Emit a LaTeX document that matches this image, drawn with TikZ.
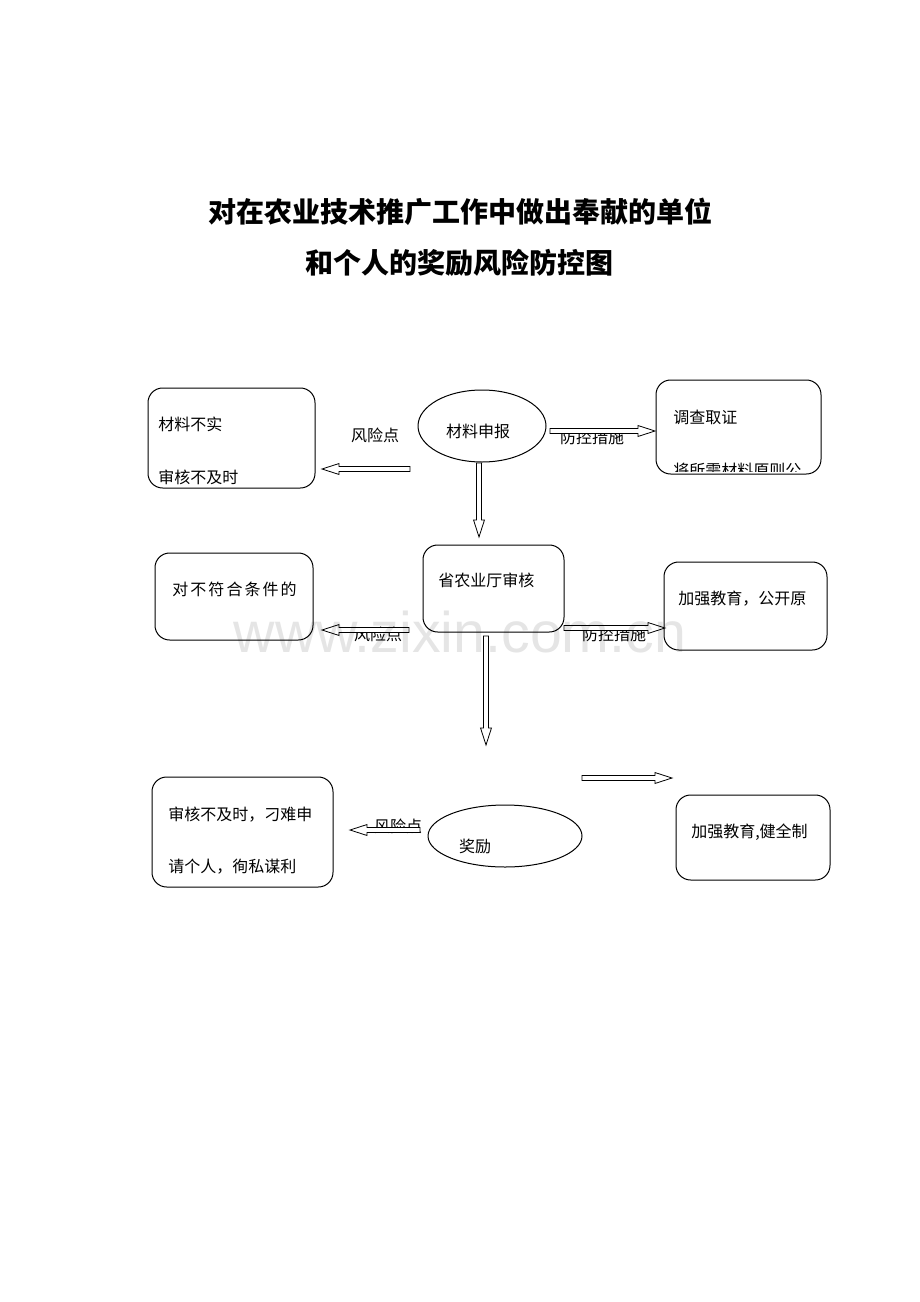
\documentclass[tikz,border=0pt]{standalone}
\usepackage{fontspec}
\setmainfont{Noto Sans CJK SC}
\newfontfamily\markfont{Liberation Sans}
\usetikzlibrary{shapes.geometric,calc,fit}

% hollow block arrow between two named coordinates
\newcommand\hollowarrow[2]{%
  \coordinate (hb) at ($(#2)!12.75pt!(#1)$);
  \draw[arrowline] ($(#1)!1.9pt!90:(#2)$) -- ($(hb)!1.9pt!90:(#2)$)
    -- ($(hb)!4.1pt!90:(#2)$) -- (#2) -- ($(hb)!4.1pt!-90:(#2)$)
    -- ($(hb)!1.9pt!-90:(#2)$) -- ($(#1)!1.9pt!-90:(#2)$) -- cycle;}

\tikzset{
  riskbox/.style={draw,rounded corners=11pt,inner sep=0pt,line width=0.75pt},
  stepoval/.style={draw,ellipse,line width=0.75pt,inner sep=0pt},
  arrowline/.style={draw,fill=white,line width=0.6pt},
  txt/.style={anchor=west,inner sep=0pt,font=\fontsize{12}{14}\selectfont},
  lbl/.style={inner sep=0pt,font=\fontsize{12}{14}\selectfont},
  headline/.style={inner sep=0pt,font=\fontsize{21}{24}\selectfont\bfseries}
}

\begin{document}
\begin{tikzpicture}[x=0.75pt,y=-0.75pt]
\useasboundingbox[fill=white] (0,0) rectangle (920,1302);

% title
\node[headline] (title1) at (460,212) {对在农业技术推广工作中做出奉献的单位};
\node[headline] (title2) at (459,263) {和个人的奖励风险防控图};

% boxes
\node[riskbox,fit={(148,388) (315,488)}] (riskA) {};
\node[riskbox,fit={(656,380) (821,474)}] (stepA) {};
\node[riskbox,fit={(423,545) (564,632)}] (audit) {};
\node[riskbox,fit={(155,553) (313,640)}] (riskB) {};
\node[riskbox,fit={(664,562) (827,650)}] (stepB) {};
\node[riskbox,fit={(152,777) (333,887)}] (riskC) {};
\node[riskbox,fit={(676,795) (830,880)}] (stepC) {};

\node[stepoval,minimum width=96pt,minimum height=54pt] (apply) at (482,426) {};
\node[stepoval,minimum width=115.5pt,minimum height=46.5pt] (award) at (505,836) {};

% texts
\node[lbl] (applyT) at (478,431) {材料申报};
\node[lbl] (awardT) at (475,846) {奖励};
\node[txt] (riskA1) at (158,424) {材料不实};
\begin{scope}
  \clip (149,389) rectangle (314,486);
  \node[txt] (riskA2) at (158,477) {审核不及时};
\end{scope}
\node[txt] (stepA1) at (673,417) {调查取证};
\begin{scope}
  \clip (657,381) rectangle (820,471);
  \node[txt] (stepA2) at (673,470) {将所需材料原则公};
\end{scope}
\node[txt] (auditT) at (438,580) {省农业厅审核};
\node[txt] (riskB1) at (172,589) {\addfontfeature{LetterSpace=13}对不符合条件的};
\node[txt] (stepB1) at (678,599) {加强教育，公开原};
\node[txt] (riskC1) at (168,815) {审核不及时，刁难申};
\node[txt] (riskC2) at (168,867) {请个人，徇私谋利};
\node[txt] (stepC1) at (691,832) {加强教育,健全制};

\node[lbl] (riskL1) at (375,435) {风险点};
\node[lbl] (stepL1) at (592,437) {防控措施};
\node[lbl] (riskL2) at (378,634) {风险点};
\node[lbl] (stepL2) at (614,634) {防控措施};
\node[lbl] (riskL3) at (398,826) {风险点};

% arrows
\coordinate (a1s) at (410,469); \coordinate (a1e) at (322,469);
\coordinate (a2s) at (550,431); \coordinate (a2e) at (655,431);
\coordinate (a3s) at (479,463); \coordinate (a3e) at (479,537);
\coordinate (a4s) at (409,630); \coordinate (a4e) at (322,630);
\coordinate (a5s) at (564,628); \coordinate (a5e) at (665,628);
\coordinate (a6s) at (486,636); \coordinate (a6e) at (486,745);
\coordinate (a7s) at (582,778); \coordinate (a7e) at (672,778);
\coordinate (a8s) at (420,830); \coordinate (a8e) at (350,830);

\hollowarrow{a1s}{a1e}
\hollowarrow{a2s}{a2e}
\hollowarrow{a3s}{a3e}
\hollowarrow{a4s}{a4e}
\hollowarrow{a5s}{a5e}
\hollowarrow{a6s}{a6e}
\hollowarrow{a7s}{a7e}
\hollowarrow{a8s}{a8e}

% watermark
\node[inner sep=0pt,text opacity=0.1,font=\markfont\fontsize{43}{43}\selectfont] (mark) at (460,632) {www.zixin.com.cn};

\end{tikzpicture}
\end{document}
